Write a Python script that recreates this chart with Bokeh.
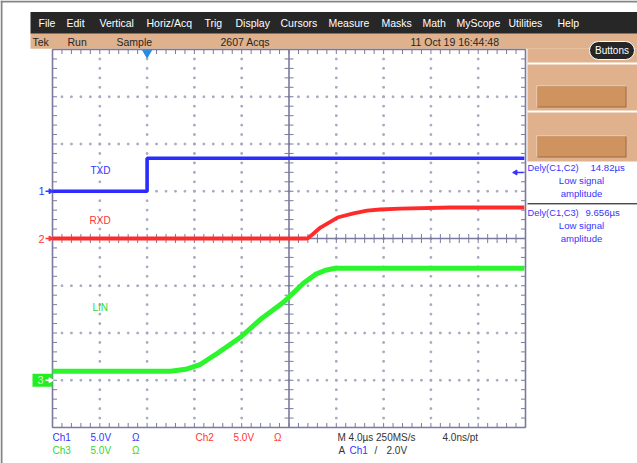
import numpy as np
from bokeh.plotting import figure
from bokeh.models import Range1d
from bokeh.core.properties import value
from bokeh.embed import file_html
from bokeh.resources import INLINE

# ---------------- data ----------------
# time in µs relative to the trigger (Ch1 rising edge), amplitude in volts
txd_t = [-8.0, 0.0, 0.0, 31.9]
txd_v = [0.0, 0.0, 3.5, 3.5]

rxd_t = [-8.0, 13.56, 13.98, 14.66, 16.1, 17.45, 18.6, 19.7, 21.4, 25.66, 31.9]
rxd_v = [0.0, 0.0, 0.42, 1.16, 2.22, 2.65, 2.96, 3.07, 3.17, 3.28, 3.28]

lin_t = [-8.0, 1.98, 3.25, 4.52, 5.95, 7.9, 9.6, 11.53, 13.22, 14.23, 15.08, 15.92, 31.9]
lin_v = [0.95, 0.95, 1.16, 1.69, 2.86, 4.55, 6.45, 8.25, 10.26, 11.2, 11.64, 11.85, 11.85]

ch_names = ["TXD", "RXD", "LIN"]
ch_ids = ["1", "2", "3"]
ch_offsets = [1.0, 0.0, -3.0]      # ground marker position, divisions
volts_per_div = 5.0
us_per_div = 4.0
screen_t0 = -8.0                    # time at left screen edge, µs
trig_t = 0.0

menu_items = ["File", "Edit", "Vertical", "Horiz/Acq", "Trig", "Display", "Cursors",
              "Measure", "Masks", "Math", "MyScope", "Utilities", "Help"]
status_items = ["Tek", "Run", "Sample", "2607 Acqs", "11 Oct 19 16:44:48"]
meas_names = ["Dely(C1,C2)", "Dely(C1,C3)"]
meas_values = ["14.82µs", "9.656µs"]
meas_notes = ["Low signal", "amplitude"]
row1_texts = ["Ch1", "5.0V", "Ω", "Ch2", "5.0V", "Ω", "M 4.0µs 250MS/s", "4.0ns/pt"]
row2_texts = ["Ch3", "5.0V", "Ω", "A", "Ch1", "/", "2.0V"]

# ---------------- layout / style ----------------
W, H = 637, 463
GL, GR, GT, GB = 52.0, 525.0, 49.0, 427.0
pxd_x = (GR - GL) / 10.0
pxd_y = (GB - GT) / 8.0
yc = (GT + GB) / 2.0
us_per_px = us_per_div / pxd_x
t_lo = screen_t0 - GL * us_per_px
t_hi = screen_t0 + (W - GL) * us_per_px
d_top = yc / pxd_y
d_bot = (yc - H) / pxd_y

FONT = value("Liberation Sans")
BLUE = "#2b2bff"
RED = "#ff2b2b"
GREEN = "#2df52d"
TBLUE = "#3535ff"
TRED = "#ff3535"
TGREEN = "#30d830"
GRIDC = "#7a7a9e"
DOTC = "#a8a8c0"
TAN = "#dfb28d"
BTN = "#cf9360"

p = figure(width=W, height=H, x_range=Range1d(0, W), y_range=Range1d(H, 0),
           min_border=0, toolbar_location=None, output_backend="svg",
           x_axis_type=None, y_axis_type=None, outline_line_color=None,
           background_fill_color="white", border_fill_color="white")
p.grid.visible = False

p.extra_x_ranges = {"t": Range1d(t_lo, t_hi)}
p.extra_y_ranges = {"div": Range1d(d_bot, d_top)}
for cid, off in zip(ch_ids, ch_offsets):
    p.extra_y_ranges["ch" + cid] = Range1d((d_bot - off) * volts_per_div, (d_top - off) * volts_per_div)


def txt(xs, ys, texts, color, size="10px", align="left", yr="default", xr="default", style="normal"):
    p.text(x=xs, y=ys, text=texts, text_color=color, text_font=FONT, text_font_size=size,
           text_align=align, text_baseline="middle", text_font_style=style,
           x_range_name=xr, y_range_name=yr)


# window frame lines
p.quad(left=[0, 0], right=[W, 2], top=[0, 0], bottom=[2, H], fill_color="#858585", line_color=None)

# menu bar and status bar
p.quad(left=[30], right=[W], top=[11.5], bottom=[33.3], fill_color="#272727", line_color=None)
p.quad(left=[30], right=[W], top=[33.3], bottom=[48.3], fill_color=TAN, line_color=None)
menu_x = [38, 66, 99, 146, 204, 235, 280, 328, 381, 422, 456, 508, 557]
txt(menu_x, [22.5] * len(menu_items), menu_items, "white", size="10.5px")
status_x = [32, 67, 116, 220, 410]
txt(status_x, [41.5] * len(status_items), status_items, "#262626", size="10.5px")

# right panel
p.quad(left=[527], right=[W], top=[48.3], bottom=[161], fill_color=TAN, line_color=None)
p.quad(left=[527, 527], right=[W, W], top=[62, 110], bottom=[64, 112], fill_color="white", line_color=None)
for y0 in [86, 136]:
    p.quad(left=[536], right=[625], top=[y0 - 1], bottom=[y0 + 20], fill_color="#f2dac2", line_color=None)
    p.quad(left=[537], right=[626], top=[y0], bottom=[y0 + 21], fill_color="#9a6a42", line_color=None)
    p.quad(left=[537], right=[625], top=[y0], bottom=[y0 + 20], fill_color=BTN, line_color=None)
p.quad(left=[589], right=[634], top=[41], bottom=[59], fill_color="#262626",
       line_color="white", line_width=1, border_radius=9)
txt([611.5], [50], ["Buttons"], "white", size="10px", align="center")

# measurement readouts
meas_y = [167, 212]
txt([527, 527], meas_y, meas_names, TBLUE, size="9.3px")
txt([590, 585], meas_y, meas_values, TBLUE, size="9.6px")
for yy in meas_y:
    txt([581, 581], [yy + 13, yy + 26], meas_notes, TBLUE, size="9.6px", align="center")
p.segment(x0=[527], x1=[W], y0=[203.3], y1=[203.3], line_color="black", line_width=1)

# ---------------- graticule ----------------
t_edges = screen_t0 + us_per_div * np.arange(11)
t_center = screen_t0 + 5 * us_per_div
t_end = screen_t0 + 10 * us_per_div
d_sub = np.round(np.arange(-4, 4.0001, 0.2), 3)
t_sub = screen_t0 + np.arange(0, 51) * (us_per_div / 5)

dx, dy = [], []
for k in range(1, 10):
    if k == 5:
        continue
    for d in d_sub[1:-1]:
        dx.append(t_edges[k]); dy.append(d)
for d in [-3, -2, -1, 1, 2, 3]:
    for t in t_sub[1:-1]:
        dx.append(t); dy.append(d)
p.scatter(dx, dy, marker="square", size=1.6, color=DOTC, x_range_name="t", y_range_name="div")

tk_t = 4.5 * us_per_px
tk_d = 4.5 / pxd_y
segs = dict(x0=[], x1=[], y0=[], y1=[])
def seg(a, b, c, d):
    segs["x0"].append(a); segs["x1"].append(b); segs["y0"].append(c); segs["y1"].append(d)
for d in d_sub:
    seg(screen_t0, screen_t0 + tk_t, d, d)
    seg(t_end - tk_t, t_end, d, d)
    seg(t_center - tk_t, t_center + tk_t, d, d)
for t in t_sub:
    seg(t, t, 4 - tk_d, 4)
    seg(t, t, -4, -4 + tk_d)
    seg(t, t, -tk_d, tk_d)
p.segment(x0="x0", x1="x1", y0="y0", y1="y1", source=segs, line_color=GRIDC, line_width=1,
          x_range_name="t", y_range_name="div")
p.segment(x0=[screen_t0, t_end, screen_t0, screen_t0, t_center, screen_t0],
          x1=[screen_t0, t_end, t_end, t_end, t_center, t_end],
          y0=[-4, -4, 4, -4, -4, 0], y1=[4, 4, 4, -4, 4, 0],
          line_color=GRIDC, line_width=1.6, x_range_name="t", y_range_name="div")

# trigger position marker
p.scatter([trig_t], [3.93], marker="inverted_triangle", size=9, color="#2a8ae0",
          x_range_name="t", y_range_name="div")

# ---------------- traces ----------------
p.line(txd_t, txd_v, line_color=BLUE, line_width=3.6, x_range_name="t", y_range_name="ch1")
p.line(rxd_t, rxd_v, line_color=RED, line_width=3.8, x_range_name="t", y_range_name="ch2")
p.line(lin_t, lin_v, line_color=GREEN, line_width=5, x_range_name="t", y_range_name="ch3")

# channel ground markers
for cid, col in [("1", TBLUE), ("2", TRED)]:
    txt([41], [0], [cid], col, size="11px", align="center", yr="ch" + cid)
    p.segment(x0=[45], x1=[50], y0=[0], y1=[0], line_color=col, line_width=1.5, y_range_name="ch" + cid)
    p.scatter([50], [0], marker="triangle", angle=-np.pi / 2, size=5, color=col, y_range_name="ch" + cid)
p.quad(left=[32], right=[52], top=[0.7], bottom=[-0.7], fill_color="#22ee22", line_color=None, y_range_name="ch3")
txt([40], [0], ["3"], "#d8ffd8", size="11px", align="center", yr="ch3")
p.segment(x0=[45], x1=[50], y0=[0], y1=[0], line_color="white", line_width=1.5, y_range_name="ch3")
p.scatter([50], [0], marker="triangle", angle=-np.pi / 2, size=5, color="white", y_range_name="ch3")

# channel names
txt([90, 89, 92], [170, 220, 307], ch_names, [TBLUE, TRED, TGREEN], size="10px")

# off-screen arrow at right (Ch1 reference)
p.segment(x0=[515], x1=[523], y0=[172], y1=[172], line_color=TBLUE, line_width=1.5)
p.scatter([515], [172], marker="triangle", angle=np.pi / 2, size=5, color=TBLUE)

# ---------------- bottom readout ----------------
r1_x = [52, 90, 131.5, 195, 233, 273.6, 337, 442]
r1_c = [TBLUE, TBLUE, TBLUE, TRED, TRED, TRED, "#333333", "#333333"]
txt(r1_x, [436.7] * len(row1_texts), row1_texts, r1_c, size="10px")
r2_x = [52, 90, 131.5, 338, 349, 374, 386]
r2_c = [TGREEN, TGREEN, TGREEN, "#333333", TBLUE, "#333333", "#333333"]
txt(r2_x, [449.5] * len(row2_texts), row2_texts, r2_c, size="10px")

open("out.html", "w").write(file_html(p, INLINE))
